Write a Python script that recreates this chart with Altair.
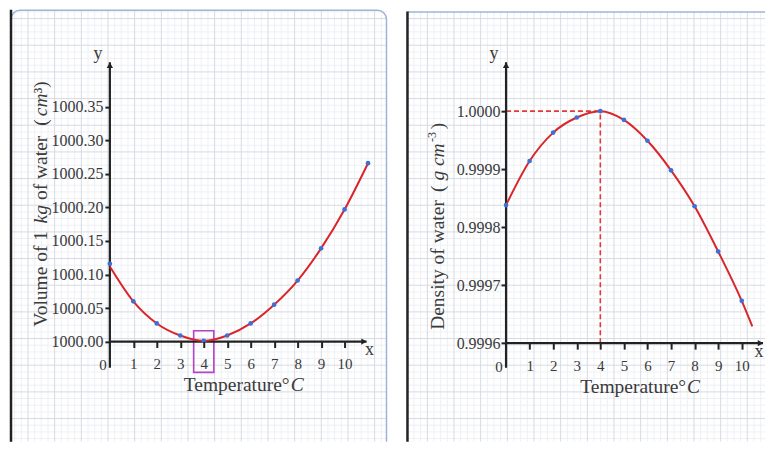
import altair as alt
import pandas as pd
import numpy as np

# ---------------- data ----------------
vol_temp = [0, 1, 2, 3, 4, 5, 6, 7, 8, 9, 10, 11]
volume = [1000.116, 1000.060, 1000.027, 1000.009, 1000.001, 1000.009,
          1000.027, 1000.055, 1000.091, 1000.139, 1000.197, 1000.266]
vol_line_temp = [0, 1, 2, 3, 4, 5, 6, 7, 8, 9, 10, 11]
vol_line = [1000.112, 1000.060, 1000.027, 1000.009, 1000.001, 1000.009,
            1000.027, 1000.055, 1000.091, 1000.139, 1000.197, 1000.266]

dens_temp = [0, 1, 2, 3, 4, 5, 6, 7, 8, 9, 10]
density = [0.999838, 0.999914, 0.999963, 0.999989, 1.000000, 0.999985,
           0.999949, 0.999898, 0.999836, 0.999758, 0.999673]
dens_line_temp = [0, 1, 2, 3, 4, 5, 6, 7, 8, 9, 10, 10.45]
dens_line = [0.999838, 0.999914, 0.999963, 0.999989, 1.000000, 0.999985,
             0.999949, 0.999898, 0.999836, 0.999758, 0.999673, 0.999629]

x_ticks = [1, 2, 3, 4, 5, 6, 7, 8, 9, 10]
vol_ticks = [1000.00, 1000.05, 1000.10, 1000.15, 1000.20, 1000.25, 1000.30, 1000.35]
dens_ticks = [0.9996, 0.9997, 0.9998, 0.9999, 1.0000]

# y titles as (text, italic, start position along the title) pieces
vol_title = [("Volume of 1", False, 319), ("kg", True, 215.5), ("of water", False, 192),
             ("(", False, 117.5), ("cm", True, 108), ("³)", False, 85.3)]
dens_title = [("Density of water", False, 322), ("(", False, 184), ("g", True, 172.5),
              ("cm", True, 158), (")", False, 121)]
dens_sup = ("-3", 134)
x_title_a = "Temperature°"
x_title_b = "C"

# ---------------- styling ----------------
H = 434
FONT = "Liberation Serif"
TXT = "#3a3a3a"
AX = "#222222"
RED = "#d8262b"
BLUE = "#3d6fd6"
MINOR = "#eef0f4"
MAJOR = "#d6dae4"
FRAME = "#9fb3d8"


def text(t, x, y, size=16, align="center", baseline="middle", angle=0, style="normal"):
    return alt.Chart(pd.DataFrame({"d": [0]})).mark_text(
        text=t, font=FONT, fontSize=size, color=TXT, align=align,
        baseline=baseline, angle=angle, fontStyle=style
    ).encode(x=alt.value(x), y=alt.value(y))


def panel(W, ox, oy, kx, ky, y0, yticks, yfmt, ylabpad, xlabpad,
          px, py, lx, ly, frame_l, frame_t, frame_r, rounded, grid_x0, grid_y0,
          ytitle, ytx, xlab_x, xtitle_y, extra):
    xs = alt.Scale(domain=[-ox / kx, (W - ox) / kx], nice=False, zero=False)
    ys = alt.Scale(domain=[y0 - (H - oy) / ky, y0 + oy / ky], nice=False, zero=False)
    xa = alt.Axis(values=x_ticks, orient="bottom", offset=-(H - oy), domain=False,
                  tickSize=6, tickWidth=2, tickColor=AX, labelFont=FONT, labelFontSize=15,
                  labelColor=TXT, labelPadding=xlabpad, grid=False, title=None, format="d",
                  zindex=1, labelFlush=False)
    ya = alt.Axis(values=yticks, orient="left", offset=-ox, domain=False,
                  tickSize=5, tickWidth=2, tickColor=AX, labelFont=FONT, labelFontSize=16,
                  labelColor=TXT, labelPadding=ylabpad, grid=False, title=None, format=yfmt,
                  zindex=1, labelFlush=False)
    XE = lambda f: alt.X(f, scale=xs, axis=xa)
    YE = lambda f: alt.Y(f, scale=ys, axis=ya)
    X = lambda p: (p - ox) / kx
    Y = lambda p: y0 + (oy - p) / ky

    layers = []
    # graph paper
    g = 26.7 / 4
    right_end = min(frame_r, W)
    vx = np.arange(grid_x0 - 40 * g, W + g, g)
    vx = [(p, int(round((p - grid_x0) / g)) % 4 == 0) for p in vx if frame_l < p < right_end]
    hy = np.arange(grid_y0 - 40 * g, H + g, g)
    hy = [(p, int(round((p - grid_y0) / g)) % 4 == 0) for p in hy if frame_t < p <= H]
    for major, col in [(False, MINOR), (True, MAJOR)]:
        dv = pd.DataFrame({"x": [X(p) for p, m in vx if m == major]})
        dh = pd.DataFrame({"y": [Y(p) for p, m in hy if m == major]})
        layers.append(alt.Chart(dv).mark_rule(color=col, strokeWidth=1, clip=True).encode(
            x=XE("x:Q"), y=alt.value(frame_t), y2=alt.value(H)))
        layers.append(alt.Chart(dh).mark_rule(color=col, strokeWidth=1, clip=True).encode(
            y=YE("y:Q"), x=alt.value(frame_l), x2=alt.value(right_end)))
    # frame
    one = pd.DataFrame({"d": [0]})
    if rounded:
        layers.append(alt.Chart(one).mark_rect(fillOpacity=0, stroke=FRAME, strokeWidth=1.5,
                                               cornerRadius=9, clip=True).encode(
            x=alt.value(frame_l), x2=alt.value(frame_r), y=alt.value(frame_t),
            y2=alt.value(H + 40)))
    else:
        layers.append(alt.Chart(one).mark_rule(color=FRAME, strokeWidth=1.5).encode(
            x=alt.value(frame_l), x2=alt.value(W), y=alt.value(frame_t)))
    layers.append(alt.Chart(one).mark_rule(color=AX, strokeWidth=2.5).encode(
        x=alt.value(frame_l), y=alt.value(frame_t - 0.5), y2=alt.value(H)))

    layers += extra(XE, YE)

    # axis lines + arrows
    vline = pd.DataFrame({"x": [0.0], "y1": [Y(360)], "y2": [Y(54)]})
    hline = pd.DataFrame({"y": [y0], "x1": [0.0], "x2": [X(359)]})
    layers.append(alt.Chart(vline).mark_rule(color=AX, strokeWidth=2.2).encode(
        x=XE("x:Q"), y=YE("y1:Q"), y2="y2:Q"))
    layers.append(alt.Chart(hline).mark_rule(color=AX, strokeWidth=2.2).encode(
        y=YE("y:Q"), x=XE("x1:Q"), x2="x2:Q"))
    layers.append(alt.Chart(pd.DataFrame({"x": [0.0], "y": [Y(57)]})).mark_point(
        shape="triangle-up", filled=True, size=40, color=AX, opacity=1).encode(
        x=XE("x:Q"), y=YE("y:Q")))
    layers.append(alt.Chart(pd.DataFrame({"x": [X(356.5)], "y": [y0]})).mark_point(
        shape="triangle-right", filled=True, size=40, color=AX, opacity=1).encode(
        x=XE("x:Q"), y=YE("y:Q")))

    # curve
    layers.append(alt.Chart(pd.DataFrame({"x": lx, "y": ly})).mark_line(
        color=RED, strokeWidth=2, interpolate="monotone").encode(
        x=XE("x:Q"), y=YE("y:Q")))
    # points
    layers.append(alt.Chart(pd.DataFrame({"x": px, "y": py})).mark_circle(
        color=BLUE, size=22, opacity=1).encode(x=XE("x:Q"), y=YE("y:Q")))

    # texts
    layers.append(text("0", ox - 7, oy + 23.5, size=15))
    layers.append(text("y", ox - 12, 46, size=18))
    layers.append(text("x", xlab_x, oy + 8.5, size=18))
    layers.append(text(x_title_a, 282, xtitle_y, size=19.5, align="right",
                       baseline="alphabetic"))
    layers.append(text(x_title_b, 283, xtitle_y, size=19.5, align="left",
                       baseline="alphabetic", style="italic"))
    for t, it, pos in ytitle:
        layers.append(text(t, ytx, pos, size=19.5, align="left", angle=270,
                           style="italic" if it else "normal"))
    return layers


def left_extra(XE, YE):
    box = pd.DataFrame({"x1": [3.57], "x2": [4.43], "y1": [999.954], "y2": [1000.016]})
    return [alt.Chart(box).mark_rect(fillOpacity=0, stroke="#b545c8", strokeWidth=1.6).encode(
        x=XE("x1:Q"), x2="x2:Q", y=YE("y1:Q"), y2="y2:Q")]


def right_extra(XE, YE):
    hd = pd.DataFrame({"x1": [0.0], "x2": [4.0], "y": [1.0]})
    vd = pd.DataFrame({"x": [4.0], "y1": [0.9996], "y2": [1.0]})
    return [
        alt.Chart(hd).mark_rule(color="#e03a35", strokeWidth=1.6, strokeDash=[5, 3]).encode(
            x=XE("x1:Q"), x2="x2:Q", y=YE("y:Q")),
        alt.Chart(vd).mark_rule(color="#e03a35", strokeWidth=1.6, strokeDash=[5, 3]).encode(
            x=XE("x:Q"), y=YE("y1:Q"), y2="y2:Q"),
    ]


left_layers = panel(397, 102, 333.7, 23.5, 671.4, 1000.0, vol_ticks, ".2f", 2, 9,
                    vol_temp, volume, vol_line_temp, vol_line,
                    3, 2, 379, True, 20, 10.3, vol_title, 33, 362, 383.5, left_extra)
right_layers = panel(361, 101.7, 335.3, 23.6, 580750.0, 0.9996, dens_ticks, ".4f", 1, 9.5,
                     dens_temp, density, dens_line_temp, dens_line,
                     3, 3.7, 400, False, 22.9, 10.3, dens_title, 34, 355, 385, right_extra)
# superscript "-3" of the density unit
right_layers.append(text(dens_sup[0], 28, dens_sup[1], size=12, align="left", angle=270))

left = alt.layer(*left_layers).properties(width=397, height=H)
right = alt.layer(*right_layers).properties(width=361, height=H)

chart = alt.hconcat(left, right, spacing=0, bounds="flush").properties(
    padding=0, background="white"
).configure_view(strokeWidth=0)

chart.save("out.html", embed_options={"renderer": "svg", "actions": False})
